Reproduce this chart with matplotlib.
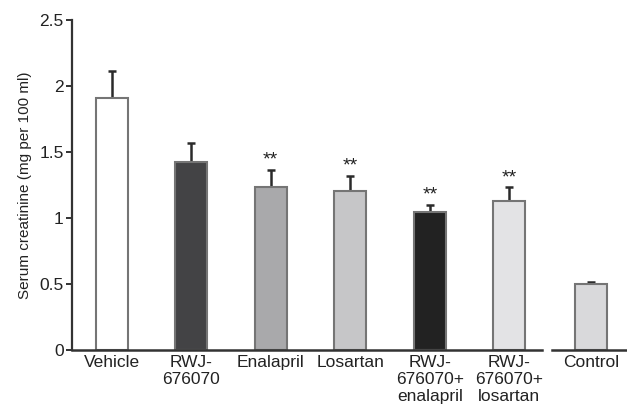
import matplotlib.pyplot as plt
import matplotlib.transforms as mtransforms

plt.rcParams['font.family'] = ['Liberation Sans', 'DejaVu Sans']

# Data
groups = ["Vehicle", "RWJ-\n676070", "Enalapril", "Losartan",
          "RWJ-\n676070+\nenalapril", "RWJ-\n676070+\nlosartan", "Control"]
positions = [0, 1, 2, 3, 4, 5, 6.03]
creatinine = [1.905, 1.42, 1.23, 1.20, 1.045, 1.13, 0.50]
sem = [0.205, 0.15, 0.13, 0.12, 0.05, 0.10, 0.01]
signif = ["", "", "**", "**", "**", "**", ""]
bar_colors = ["#ffffff", "#434345", "#a9a9ab", "#c6c6c8", "#222222", "#e3e3e5", "#d9d9db"]

fig = plt.figure(figsize=(6.27, 4.05), dpi=100)
ax = fig.add_axes([0.1148, 0.1365, 0.8852, 0.8145])

ax.bar(positions, creatinine, width=0.4, color=bar_colors,
       edgecolor="#757575", linewidth=1.5, zorder=2)
ax.errorbar(positions, creatinine, yerr=[[0] * len(sem), sem], fmt="none",
            ecolor="#2a2a2a", elinewidth=1.8, capsize=3, capthick=1.8, zorder=1)

for x, y, e, s in zip(positions, creatinine, sem, signif):
    if s:
        ax.annotate(s, (x, y + e), xytext=(0, 1), textcoords="offset points",
                    ha="center", va="bottom", fontsize=14, color="#222222")

ax.set_xlim(-0.5, 6.48)
ax.set_ylim(0, 2.5)
ax.set_yticks([0, 0.5, 1, 1.5, 2, 2.5])
ax.set_yticklabels(["0", "0.5", "1", "1.5", "2", "2.5"])
ax.set_xticks(positions)
ax.set_xticklabels(groups, linespacing=1.15)
ax.tick_params(axis="x", length=0, pad=4, labelsize=12.5, colors="#222222")
ax.tick_params(axis="y", length=4, width=1.3, pad=2, labelsize=12.5,
               colors="#222222", direction="out")
ax.set_ylabel("Serum creatinine (mg per 100 ml)", fontsize=11, color="#222222", labelpad=5)

for side in ["top", "right", "bottom"]:
    ax.spines[side].set_visible(False)
ax.spines["left"].set_linewidth(1.6)
ax.spines["left"].set_color("#333333")

# broken x axis
trans = mtransforms.blended_transform_factory(ax.transAxes, ax.transData)
ax.plot([0, 0.847], [0, 0], transform=trans, color="#333333", lw=1.8, clip_on=False, zorder=3)
ax.plot([0.865, 1.0], [0, 0], transform=trans, color="#333333", lw=1.8, clip_on=False, zorder=3)

fig.savefig("out.png", dpi=100)
